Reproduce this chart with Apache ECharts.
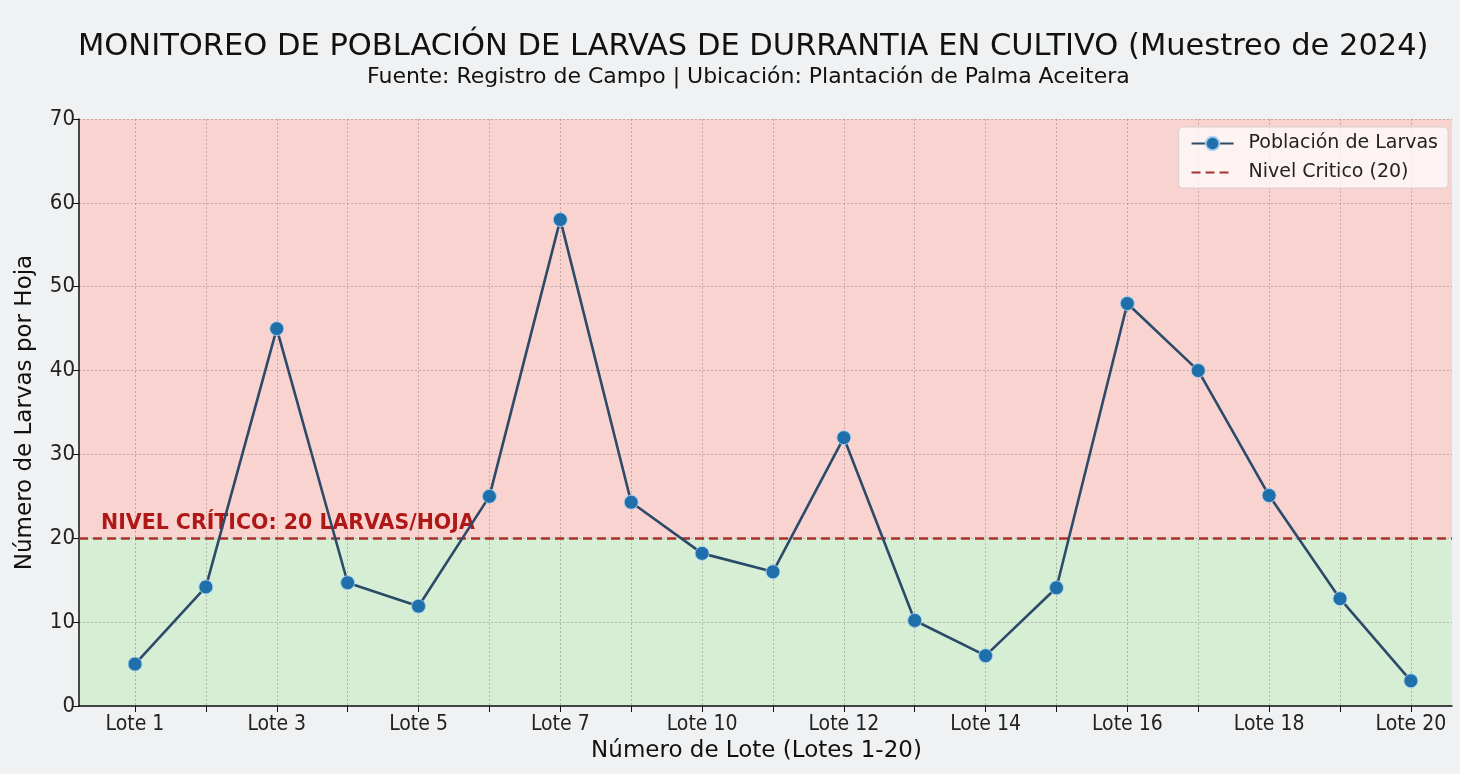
<!DOCTYPE html>
<html>
<head>
<meta charset="utf-8">
<script src="https://cdn.jsdelivr.net/npm/echarts@6/dist/echarts.min.js"></script>
<style>
html,body{margin:0;padding:0;background:#eff1f3;}
#chart{width:1460px;height:774px;}
</style>
</head>
<body>
<div id="chart"></div>
<script>
const categories = ['Lote 1','Lote 2','Lote 3','Lote 4','Lote 5','Lote 6','Lote 7','Lote 8','Lote 10','Lote 11','Lote 12','Lote 13','Lote 14','Lote 15','Lote 16','Lote 17','Lote 18','Lote 19','Lote 20'];
const larvas = [5.0, 14.2, 45.0, 14.7, 11.9, 25.0, 58.0, 24.3, 18.2, 16.0, 32.0, 10.2, 6.0, 14.1, 48.0, 40.0, 25.1, 12.8, 3.0];
const nivelCritico = 20;
const yTicks = [0, 10, 20, 30, 40, 50, 60, 70];

const FONT = "'DejaVu Sans', sans-serif";
const FONT_C = "'DejaVu Sans Condensed', 'DejaVu Sans', sans-serif";
const allIdx = categories.map((c, i) => i);
const labelIdx = allIdx.filter(i => i % 2 === 0);

const chart = echarts.init(document.getElementById('chart'));
chart.setOption({
  backgroundColor: '#eff1f3',
  animation: false,
  textStyle: { fontFamily: FONT },
  title: [{
    text: 'MONITOREO DE POBLACIÓN DE LARVAS DE DURRANTIA EN CULTIVO (Muestreo de 2024)',
    left: 73, top: 27,
    textStyle: { fontFamily: FONT, fontSize: 30.5, fontWeight: 'normal', color: '#111' }
  }, {
    text: 'Fuente: Registro de Campo | Ubicación: Plantación de Palma Aceitera',
    left: 362, top: 61,
    textStyle: { fontFamily: FONT, fontSize: 22, fontWeight: 'normal', color: '#111' }
  }],
  legend: {
    right: 12, top: 127,
    orient: 'vertical',
    itemWidth: 42, itemHeight: 17, itemGap: 10,
    padding: [7, 10, 6, 12],
    backgroundColor: 'rgba(255,255,255,0.72)',
    borderColor: '#d8d0d0', borderWidth: 1, borderRadius: 4,
    textStyle: { fontFamily: FONT, fontSize: 19, color: '#222', padding: [0, 0, 0, 10] },
    data: [
      { name: 'Población de Larvas' },
      { name: 'Nivel Critico (20)', itemStyle: { opacity: 0 } }
    ]
  },
  grid: { left: 79, right: 8, top: 119, bottom: 68 },
  xAxis: {
    type: 'value',
    min: -0.79, max: 18.58,
    name: 'Número de Lote (Lotes 1-20)',
    nameLocation: 'middle', nameGap: 30,
    nameTextStyle: { fontFamily: FONT, fontSize: 23, color: '#111', padding: [0, 18, 0, 0] },
    axisLine: { show: true, onZero: false, lineStyle: { color: '#111', width: 1.5 } },
    axisTick: { show: true, customValues: allIdx, length: 6, lineStyle: { color: '#111' } },
    axisLabel: {
      customValues: labelIdx,
      formatter: v => categories[Math.round(v)],
      fontFamily: FONT_C, fontSize: 21, color: '#222', margin: 8
    },
    splitLine: { show: true, lineStyle: { color: 'rgba(120,100,100,0.4)', type: [2, 2], width: 1 } }
  },
  yAxis: {
    type: 'value',
    min: 0, max: 70, interval: 10,
    name: 'Número de Larvas por Hoja',
    nameLocation: 'middle', nameGap: 42,
    nameTextStyle: { fontFamily: FONT, fontSize: 23, color: '#111' },
    axisLine: { show: true, onZero: false, lineStyle: { color: '#111', width: 1.5 } },
    axisTick: { show: true, length: 6, lineStyle: { color: '#111' } },
    axisLabel: {
      formatter: v => (yTicks.includes(v) ? String(v) : ''),
      fontFamily: FONT_C, fontSize: 22, color: '#222', margin: 4
    },
    splitLine: { show: true, lineStyle: { color: 'rgba(120,100,100,0.4)', type: [2, 2], width: 1 } }
  },
  series: [{
    name: 'Población de Larvas',
    type: 'line',
    data: larvas.map((v, i) => [i, v]),
    symbol: 'circle', symbolSize: 14,
    itemStyle: { color: '#1f6fab', borderColor: 'rgba(170,210,240,0.9)', borderWidth: 1 },
    lineStyle: { color: '#2c4a69', width: 2.6 },
    z: 5,
    markArea: {
      silent: true,
      z: -1,
      data: [
        [{ yAxis: nivelCritico, itemStyle: { color: '#f8d3cf' } }, { yAxis: 70 }],
        [{ yAxis: 0, itemStyle: { color: '#d6eed3' } }, { yAxis: nivelCritico }]
      ]
    }
  }, {
    name: 'Nivel Critico (20)',
    type: 'line',
    data: [],
    symbol: 'none',
    itemStyle: { color: '#b02a24' },
    lineStyle: { color: '#a8322c', type: [9, 5], width: 2.5 },
    markLine: {
      silent: true,
      symbol: 'none',
      lineStyle: { color: '#a8322c', type: [9, 5], width: 2.5 },
      data: [{ yAxis: nivelCritico }],
      label: {
        show: true,
        position: 'insideStartTop',
        distance: [22, 4],
        formatter: 'NIVEL CRÍTICO: 20 LARVAS/HOJA',
        fontFamily: FONT, fontSize: 20.5, fontWeight: 'bold', color: '#b01818'
      }
    }
  }]
});
</script>
</body>
</html>
